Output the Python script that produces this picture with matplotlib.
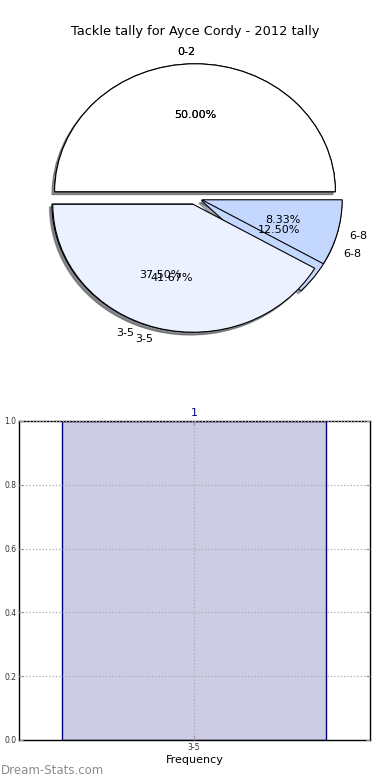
import matplotlib
matplotlib.use("Agg")
import matplotlib.pyplot as plt

# Data
slice_labels = ['0-2', '3-5', '6-8']
tally_first = [4, 3, 1]     # 50.00%, 37.50%, 12.50%
tally_second = [6, 5, 1]    # 50.00%, 41.67%, 8.33%
slice_colors = ['#FFFFFF', '#EBF1FF', '#C4D8FF']

bar_categories = ['3-5']
bar_values = [1]

title = 'Tackle tally for Ayce Cordy - 2012 tally'

fig = plt.figure(figsize=(3.9, 7.8), dpi=100)

# Pie
ax1 = fig.add_axes([0.05, 0.541, 0.9, 0.41])
explode = [0.05, 0.05, 0.05]
for data in (tally_first, tally_second):
    wedges, texts, autotexts = ax1.pie(
        data, labels=slice_labels, colors=slice_colors, explode=explode,
        autopct='%1.2f%%', shadow=dict(ox=-0.013, oy=-0.016, shade=0.6),
        startangle=0, pctdistance=0.6, labeldistance=1.09,
        wedgeprops=dict(edgecolor='black', linewidth=0.8),
        textprops=dict(fontsize=8))
ax1.set_aspect('auto')
ax1.set_xlim(-1.25, 1.25)
ax1.set_ylim(-1.25, 1.25)
ax1.set_title(title, fontsize=9.3, pad=2)

# Bar
ax2 = fig.add_axes([0.049, 0.0513, 0.9, 0.409])
x = list(range(len(bar_categories)))
bars = ax2.bar(x, bar_values, width=0.8, color='#CCCCE5', edgecolor='#000080',
               linewidth=1.0, zorder=2)
for xi, v in zip(x, bar_values):
    ax2.text(xi, v + 0.01, str(v), ha='center', va='bottom', color='#000080',
             fontsize=8)
ax2.set_xlim(-0.53, 0.534)
ax2.set_ylim(0, 1.0)
ax2.set_xticks(x)
ax2.set_xticklabels(bar_categories, fontsize=5.5, color='#333333')
ax2.set_yticks([0.0, 0.2, 0.4, 0.6, 0.8, 1.0])
ax2.set_yticklabels(['0.0', '0.2', '0.4', '0.6', '0.8', '1.0'], fontsize=5.5,
                    color='#333333')
ax2.tick_params(direction='in', length=3, color='#999999', top=True, right=True,
                pad=2)
ax2.grid(True, linestyle=':', color='#aaaaaa', linewidth=0.9, zorder=3)
ax2.set_axisbelow(False)
ax2.set_xlabel('Frequency', fontsize=8, labelpad=2)
for s in ax2.spines.values():
    s.set_linewidth(1.0)

fig.text(0.002, 0.004, 'Dream-Stats.com', fontsize=8.5, color='#8c8c8c',
         ha='left', va='bottom')

fig.savefig('out.png', dpi=100)
